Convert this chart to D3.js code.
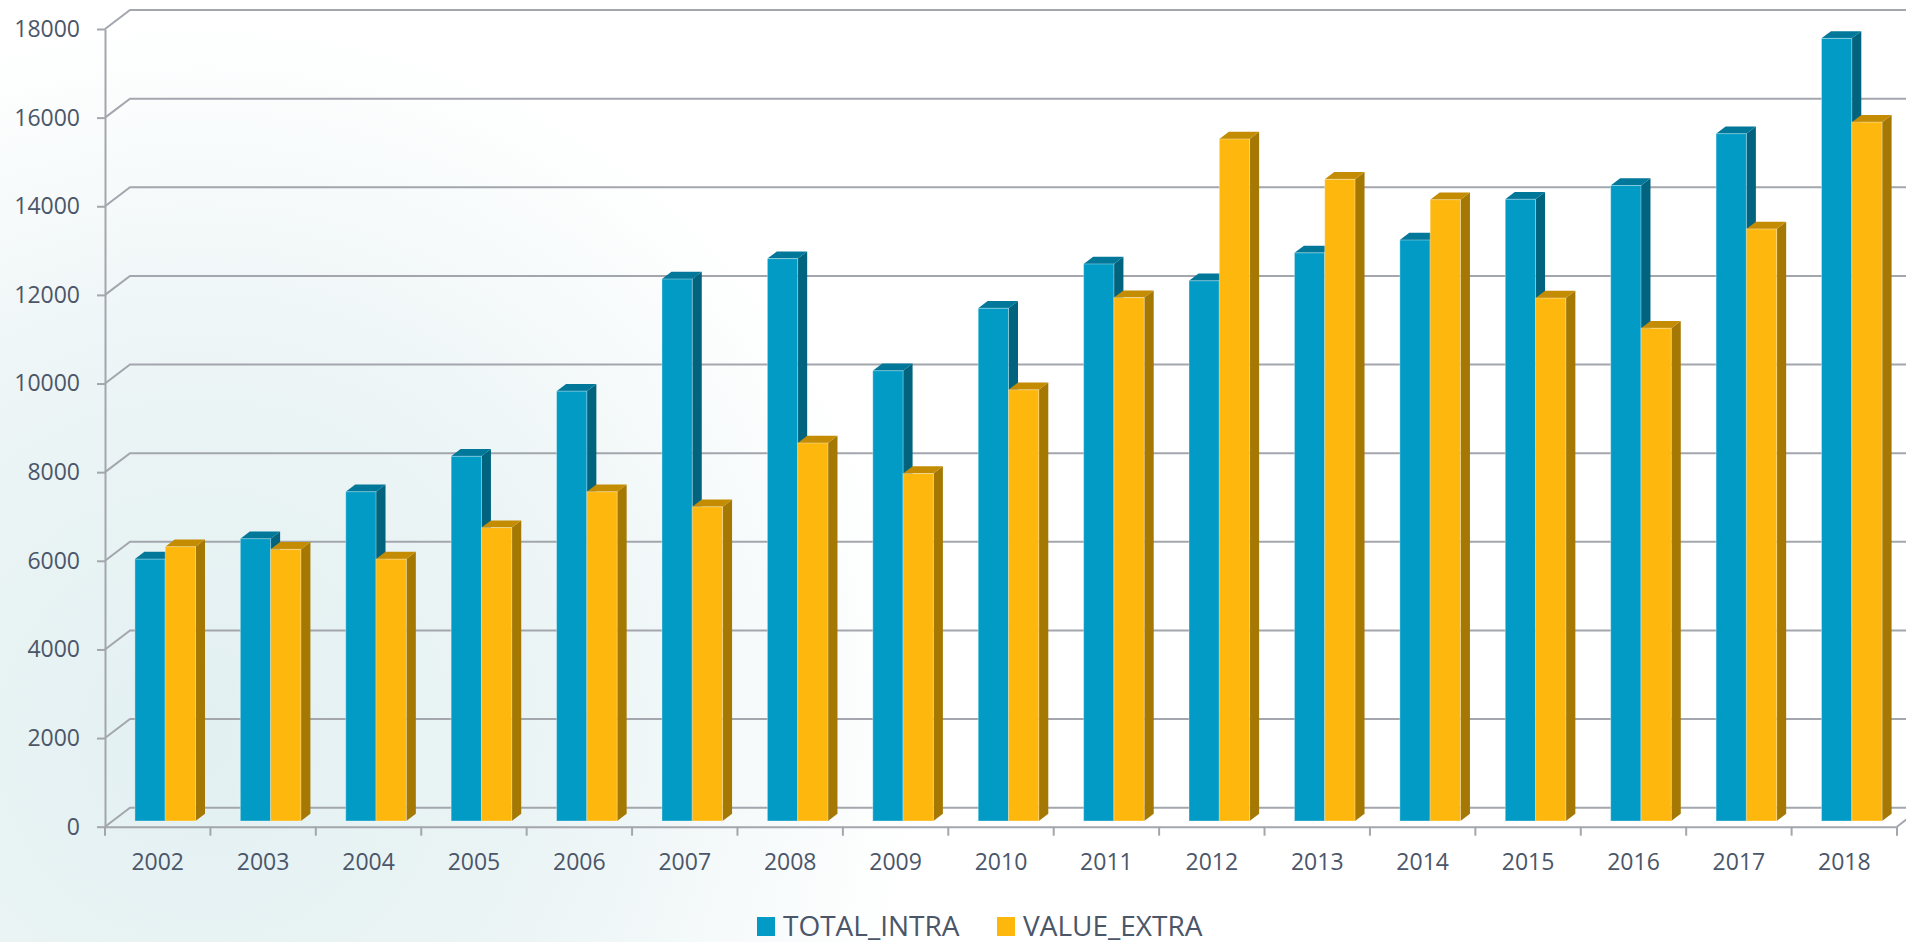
<!DOCTYPE html>
<html>
<head>
<meta charset="utf-8">
<script src="https://cdn.jsdelivr.net/npm/d3@7"></script>
<style>
  body { margin: 0; overflow: hidden; background: #fff; }
  text { font-family: "Open Sans", sans-serif; fill: #4b5669; }
</style>
</head>
<body>
<script>
// data
var years = ["2002","2003","2004","2005","2006","2007","2008","2009","2010",
             "2011","2012","2013","2014","2015","2016","2017","2018"];
var totalIntra = [5910, 6370, 7430, 8230, 9700, 12230, 12690, 10160, 11570,
                  12570, 12190, 12820, 13110, 14030, 14340, 15510, 17660];
var valueExtra = [6190, 6130, 5910, 6620, 7430, 7090, 8530, 7840, 9730,
                  11810, 15390, 14480, 14020, 11800, 11120, 13360, 15770];
var seriesNames = ["TOTAL_INTRA", "VALUE_EXTRA"];
var yTicks = [0, 2000, 4000, 6000, 8000, 10000, 12000, 14000, 16000, 18000];

var colors = {
  TOTAL_INTRA: { front: "#029bc5", top: "#01789a", side: "#01637e" },
  VALUE_EXTRA: { front: "#fdb70d", top: "#c48c03", side: "#a57803" }
};

var width = 1906, height = 942;
var svg = d3.select("body").append("svg")
    .attr("width", width)
    .attr("height", height);

// soft teal glow in the background
var defs = svg.append("defs");
var grad = defs.append("radialGradient")
    .attr("id", "bg")
    .attr("gradientUnits", "userSpaceOnUse")
    .attr("cx", 200).attr("cy", 740).attr("r", 720);
grad.append("stop").attr("offset", "0%").attr("stop-color", "#e2f0f1");
grad.append("stop").attr("offset", "55%").attr("stop-color", "#edf5f6");
grad.append("stop").attr("offset", "100%").attr("stop-color", "#ffffff");
svg.append("rect").attr("width", width).attr("height", height).attr("fill", "url(#bg)");

var x0 = d3.scaleBand().domain(years).range([105, 1897]);
var groupW = 60.6;
var x1 = d3.scaleBand().domain(seriesNames).range([0, groupW]);
var y = d3.scaleLinear().domain([0, 18000]).range([826.7, 29]);

// 3d depth of the plot box
var depth = { dx: 25, dy: -19 };
var barFront = 0.3, barBack = 0.68;
var gridColor = "#a3a6ad";

// side wall diagonals + back wall gridlines
var grid = svg.append("g");
grid.selectAll("path.grid")
  .data(yTicks)
  .enter().append("path")
    .attr("class", "grid")
    .attr("d", function(t) {
      var yy = y(t);
      return "M105," + yy + "L" + (105 + depth.dx) + "," + (yy + depth.dy) +
             "L" + (1897 + depth.dx) + "," + (yy + depth.dy);
    })
    .attr("fill", "none")
    .attr("stroke", gridColor)
    .attr("stroke-width", 2);

// right edge of the floor
grid.append("path")
    .attr("d", "M1897," + y(0) + "L" + (1897 + depth.dx) + "," + (y(0) + depth.dy))
    .attr("fill", "none")
    .attr("stroke", gridColor)
    .attr("stroke-width", 2);

// y axis
var yAxis = svg.append("g")
    .attr("transform", "translate(105,0)")
    .call(d3.axisLeft(y).tickValues(yTicks).tickSize(8).tickSizeOuter(0).tickPadding(17).tickFormat(d3.format("d")));
yAxis.selectAll("path, line").attr("stroke", gridColor).attr("stroke-width", 2);
yAxis.selectAll("text").style("font-size", "23px").attr("fill", "#4b5669");

// x axis
var xAxis = svg.append("g")
    .attr("transform", "translate(0," + y(0) + ")")
    .call(d3.axisBottom(x0).tickSize(0).tickSizeOuter(0).tickPadding(27));
xAxis.select(".domain").attr("stroke", gridColor).attr("stroke-width", 2);
xAxis.selectAll("text").style("font-size", "23px").attr("fill", "#4b5669");

var bounds = years.map(function(d) { return x0(d); }).concat([x0.range()[1]]);
xAxis.selectAll("line.bound")
  .data(bounds)
  .enter().append("line")
    .attr("class", "bound")
    .attr("x1", function(d) { return d; })
    .attr("x2", function(d) { return d; })
    .attr("y1", 0)
    .attr("y2", 9)
    .attr("stroke", gridColor)
    .attr("stroke-width", 2);

// bars
var bars = [];
years.forEach(function(yr, i) {
  bars.push({ year: yr, s: "TOTAL_INTRA", v: totalIntra[i] });
  bars.push({ year: yr, s: "VALUE_EXTRA", v: valueExtra[i] });
});

var fdx = depth.dx * barFront, fdy = depth.dy * barFront;
var ddx = depth.dx * (barBack - barFront), ddy = depth.dy * (barBack - barFront);

svg.append("g").selectAll("g.bar")
  .data(bars)
  .enter().append("g")
    .attr("class", "bar")
    .each(function(d) {
      var g = d3.select(this);
      var w = x1.bandwidth();
      var left = x0(d.year) + (x0.bandwidth() - groupW) / 2 + x1(d.s) + fdx;
      var top = y(d.v) + fdy;
      var bottom = y(0) + fdy;
      var c = colors[d.s];
      g.append("polygon")
        .attr("points", [[left + w, top], [left + w + ddx, top + ddy],
                         [left + w + ddx, bottom + ddy], [left + w, bottom]].join(" "))
        .attr("fill", c.side);
      g.append("polygon")
        .attr("points", [[left, top], [left + ddx, top + ddy],
                         [left + w + ddx, top + ddy], [left + w, top]].join(" "))
        .attr("fill", c.top);
      g.append("rect")
        .attr("x", left)
        .attr("y", top)
        .attr("width", w)
        .attr("height", bottom - top)
        .attr("fill", c.front)
        .attr("stroke", "rgba(255,255,255,0.35)")
        .attr("stroke-width", 1);
      g.append("title").text(d.s + " " + d.year + ": " + d.v);
    });

// legend
var legend = svg.append("g");
var legendX = [757, 997];
seriesNames.forEach(function(s, i) {
  legend.append("rect")
    .attr("x", legendX[i])
    .attr("y", 917)
    .attr("width", 18)
    .attr("height", 19)
    .attr("fill", colors[s].front);
  legend.append("text")
    .attr("x", legendX[i] + 26)
    .attr("y", 936)
    .style("font-size", "28px")
    .text(s);
});
</script>
</body>
</html>
